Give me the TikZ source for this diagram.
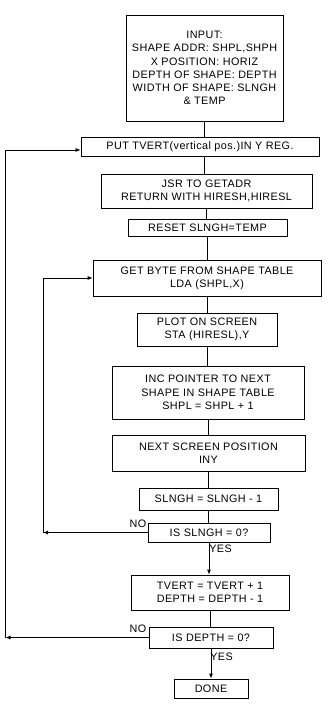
\documentclass[tikz,border=0pt]{standalone}
\usepackage{fontspec}
\setmainfont[LetterSpace=4]{Liberation Sans}
\usetikzlibrary{arrows.meta}
\begin{document}
\begin{tikzpicture}[x=1pt,y=1pt,
  box/.style={draw,line width=0.8pt,inner sep=0pt,align=center,
    font=\fontsize{10.8}{13.3}\selectfont},
  lbl/.style={inner sep=0pt,font=\fontsize{10.8}{13.3}\selectfont},
  ln/.style={line width=0.8pt},
  arr/.style={line width=0.8pt,-{Latex[length=5pt,width=4pt]}}]
\useasboundingbox (0,0) rectangle (331,-708);
\node[box,minimum width=157,minimum height=106] (in) at (204.5,-68)
  {INPUT:\\SHAPE ADDR: SHPL,SHPH\\X POSITION: HORIZ\\DEPTH OF SHAPE: DEPTH\\WIDTH OF SHAPE: SLNGH\\\& TEMP};
\node[box,minimum width=238,minimum height=19] (put) at (200,-146.5)
  {PUT TVERT(vertical pos.)IN Y REG.};
\node[box,minimum width=211,minimum height=34] (jsr) at (206.5,-191)
  {JSR TO GETADR\\RETURN WITH HIRESH,HIRESL};
\node[box,minimum width=159,minimum height=17] (rst) at (207.5,-227.5)
  {RESET SLNGH=TEMP};
\node[box,minimum width=228,minimum height=36] (get) at (207,-278)
  {GET BYTE FROM SHAPE TABLE\\LDA (SHPL,X)};
\node[box,minimum width=140,minimum height=33] (plot) at (207,-329.5)
  {PLOT ON SCREEN\\STA (HIRESL),Y};
\node[box,minimum width=192,minimum height=53] (inc) at (208,-392.5)
  {INC POINTER TO NEXT\\SHAPE IN SHAPE TABLE\\SHPL = SHPL + 1};
\node[box,minimum width=193,minimum height=36] (nxt) at (208.5,-453)
  {NEXT SCREEN POSITION\\INY};
\node[box,minimum width=139,minimum height=22] (dec) at (208.5,-499)
  {SLNGH = SLNGH - 1};
\node[box,minimum width=122,minimum height=19] (q1) at (209,-532.5)
  {IS SLNGH = 0?};
\node[box,minimum width=158,minimum height=35] (tv) at (210,-592.5)
  {TVERT = TVERT + 1\\DEPTH = DEPTH - 1};
\node[box,minimum width=124,minimum height=21] (q2) at (211,-637.5)
  {IS DEPTH = 0?};
\node[box,minimum width=74,minimum height=19] (done) at (211,-688.5)
  {DONE};
% labels
\node[lbl] (no1) at (138,-524) {NO};
\node[lbl] (yes1) at (220.5,-549) {YES};
\node[lbl] (no2) at (138,-628.5) {NO};
\node[lbl] (yes2) at (221.5,-656.5) {YES};
% loop corners
\coordinate (c1) at (43,-532.5);
\coordinate (c2) at (43,-278);
\coordinate (c3) at (5.5,-637.5);
\coordinate (c4) at (5.5,-150);
% spine
\draw[ln] (in.south) -- (in.south |- put.north);
\draw[ln] (in.south |- put.south) -- (in.south |- jsr.north);
\draw[ln] (jsr.south) -- (jsr.south |- rst.north);
\draw[ln] (rst.south) -- (rst.south |- get.north);
\draw[ln] (get.south) -- (get.south |- plot.north);
\draw[ln] (plot.south) -- (plot.south |- inc.north);
\draw[ln] (inc.south) -- (inc.south |- nxt.north);
\draw[ln] (nxt.south) -- (nxt.south |- dec.north);
\draw[ln] (dec.south) -- (dec.south |- q1.north);
\draw[arr] (q1.south) -- (q1.south |- tv.north);
\draw[ln] (tv.south) -- (tv.south |- q2.north);
\draw[arr] (q2.south) -- (q2.south |- done.north);
% inner loop
\draw[arr] (q1.west) -- (c1);
\draw[arr] (c1) -- (c2) -- (get.west);
% outer loop
\draw[arr] (q2.west) -- (c3);
\draw[arr] (c3) -- (c4) -- (c4 -| put.west);
\end{tikzpicture}
\end{document}
